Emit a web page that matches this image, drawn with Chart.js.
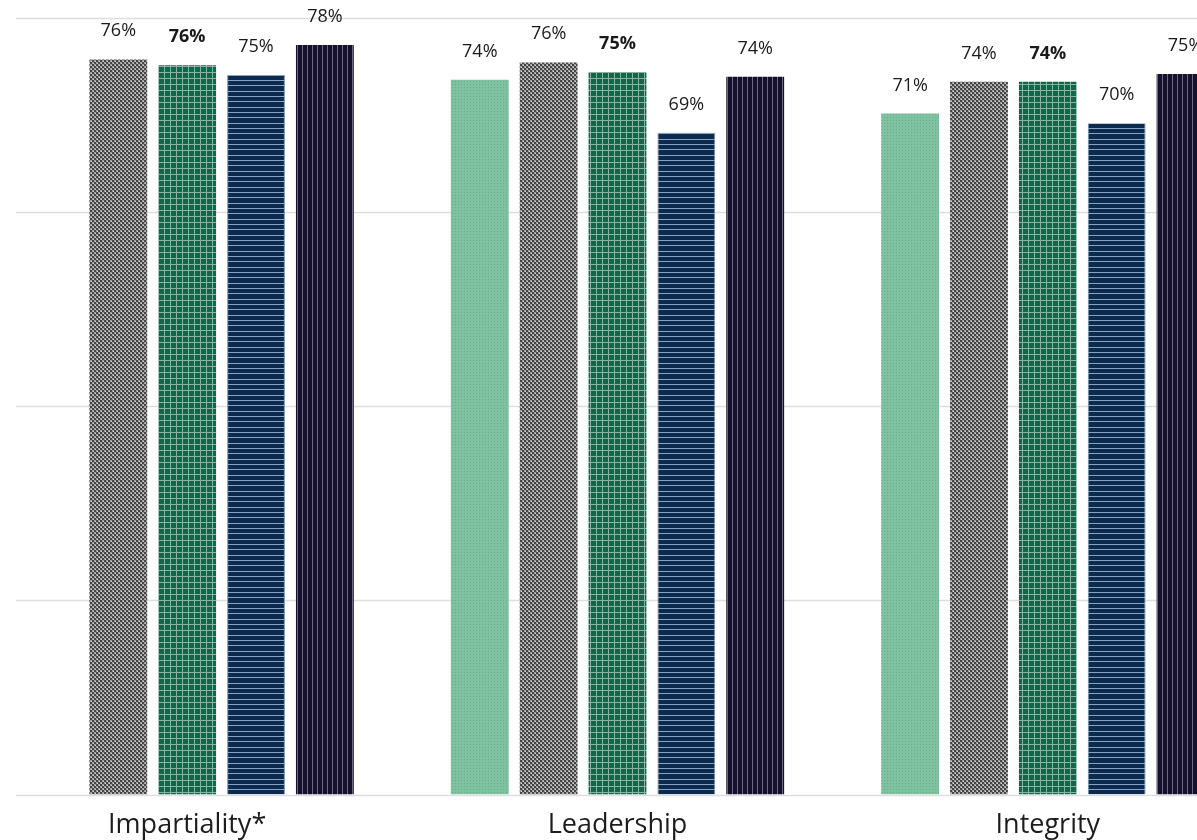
<!DOCTYPE html>
<html>
<head>
<meta charset="utf-8">
<script src="https://cdn.jsdelivr.net/npm/chart.js@4.4.1/dist/chart.umd.min.js"></script>
<style>
  html, body { margin: 0; padding: 0; background: #ffffff; overflow: hidden; width: 1197px; height: 840px; }
  #wrap { position: absolute; left: -28px; top: 0; width: 1291px; height: 857px; }
</style>
</head>
<body>
<div id="wrap"><canvas id="c" width="1291" height="857"></canvas></div>
<script>
// ---- Data (bar heights; labels shown rounded) ----
const categories = ['Impartiality*', 'Leadership', 'Integrity'];
const seriesNames = ['Series 1', 'Series 2', 'Series 3', 'Series 4', 'Series 5'];
const series1 = [null, 74.1, 70.6];
const series2 = [76.2, 75.9, 73.9];
const series3 = [75.6, 74.9, 73.9];
const series4 = [74.6, 68.6, 69.6];
const series5 = [77.7, 74.4, 74.7];
const boldSeries = [false, false, true, false, false];
const yMax = 80.5;

// ---- Patterns (styles) ----
function tile(w, h, draw) {
  const c = document.createElement('canvas');
  c.width = w; c.height = h;
  const g = c.getContext('2d');
  draw(g);
  return document.getElementById('c').getContext('2d').createPattern(c, 'repeat');
}
const patLightGreen = tile(3, 3, g => {
  g.fillStyle = '#7fc2a1'; g.fillRect(0, 0, 3, 3);
  g.fillStyle = '#68ab8a'; g.fillRect(0, 0, 1, 1);
});
const patGray = tile(4, 4, g => {
  g.fillStyle = '#9c9c9c'; g.fillRect(0, 0, 4, 4);
  g.fillStyle = '#464646'; g.fillRect(0, 0, 2, 2); g.fillRect(2, 2, 2, 2);
  g.fillStyle = '#cfcfcf'; g.fillRect(3, 1, 1, 1); g.fillRect(1, 3, 1, 1);
});
const patGreen = tile(6, 6, g => {
  g.fillStyle = '#15654a'; g.fillRect(0, 0, 6, 6);
  g.fillStyle = '#86b6a2'; g.fillRect(0, 0, 6, 1); g.fillRect(0, 0, 1, 6);
});
const patNavy = tile(16, 16, g => {
  g.fillStyle = '#0c2a4d'; g.fillRect(0, 0, 16, 16);
  g.fillStyle = '#86a2c4'; g.fillRect(0, 0, 16, 1); g.fillRect(0, 5, 16, 1); g.fillRect(0, 11, 16, 1);
});
const patDark = tile(5, 5, g => {
  g.fillStyle = '#15112c'; g.fillRect(0, 0, 5, 5);
  g.fillStyle = '#6e6886'; g.fillRect(0, 0, 1, 5);
});
const fills = [patLightGreen, patGray, patGreen, patNavy, patDark];
const borderColors = [null, null, null, '#7391b8', null];
const values = [series1, series2, series3, series4, series5];

const FONT = '"Open Sans", Lato, sans-serif';

// ---- Plugins ----
const gridPlugin = {
  id: 'gridFromInset',
  beforeDatasetsDraw(chart) {
    const { ctx, chartArea, scales } = chart;
    const left = chartArea.left + 44;
    ctx.save();
    ctx.strokeStyle = '#dedede';
    ctx.lineWidth = 1.5;
    scales.y.ticks.forEach(t => {
      const y = Math.round(scales.y.getPixelForValue(t.value)) + 0.5;
      ctx.beginPath();
      ctx.moveTo(left, y);
      ctx.lineTo(chartArea.right, y);
      ctx.stroke();
    });
    ctx.restore();
  }
};
const labelPlugin = {
  id: 'valueLabels',
  afterDatasetsDraw(chart) {
    const { ctx } = chart;
    ctx.save();
    ctx.textAlign = 'center';
    ctx.textBaseline = 'alphabetic';
    ctx.fillStyle = '#1a1a1a';
    chart.data.datasets.forEach((ds, i) => {
      const meta = chart.getDatasetMeta(i);
      ctx.font = (boldSeries[i] ? 'bold ' : '') + '18px ' + FONT;
      meta.data.forEach((el, j) => {
        const v = ds.data[j];
        if (v === null || v === undefined) return;
        ctx.fillText(Math.round(v) + '%', el.x, el.y - 23);
      });
    });
    ctx.restore();
  }
};

new Chart(document.getElementById('c'), {
  type: 'bar',
  data: {
    labels: categories,
    datasets: values.map((vals, i) => ({
      label: seriesNames[i],
      data: vals,
      backgroundColor: fills[i],
      borderColor: borderColors[i] || 'rgba(0,0,0,0)',
      borderWidth: borderColors[i] ? { left: 1, right: 1, top: 0, bottom: 0 } : 0,
      borderSkipped: false,
      categoryPercentage: 0.8,
      barPercentage: 0.84
    }))
  },
  options: {
    responsive: false,
    animation: false,
    devicePixelRatio: 1,
    layout: { padding: { top: 18, left: 0, right: 0, bottom: 0 } },
    plugins: { legend: { display: false }, tooltip: { enabled: false } },
    scales: {
      x: {
        offset: true,
        grid: { display: false, drawTicks: false },
        border: { display: false },
        ticks: { color: '#1d1d1d', font: { family: FONT, size: 27 }, padding: 15, maxRotation: 0, autoSkip: false }
      },
      y: {
        min: 0,
        max: yMax,
        ticks: { display: false, count: 5 },
        grid: { display: false, drawTicks: false },
        border: { display: false }
      }
    }
  },
  plugins: [gridPlugin, labelPlugin]
});
</script>
</body>
</html>
